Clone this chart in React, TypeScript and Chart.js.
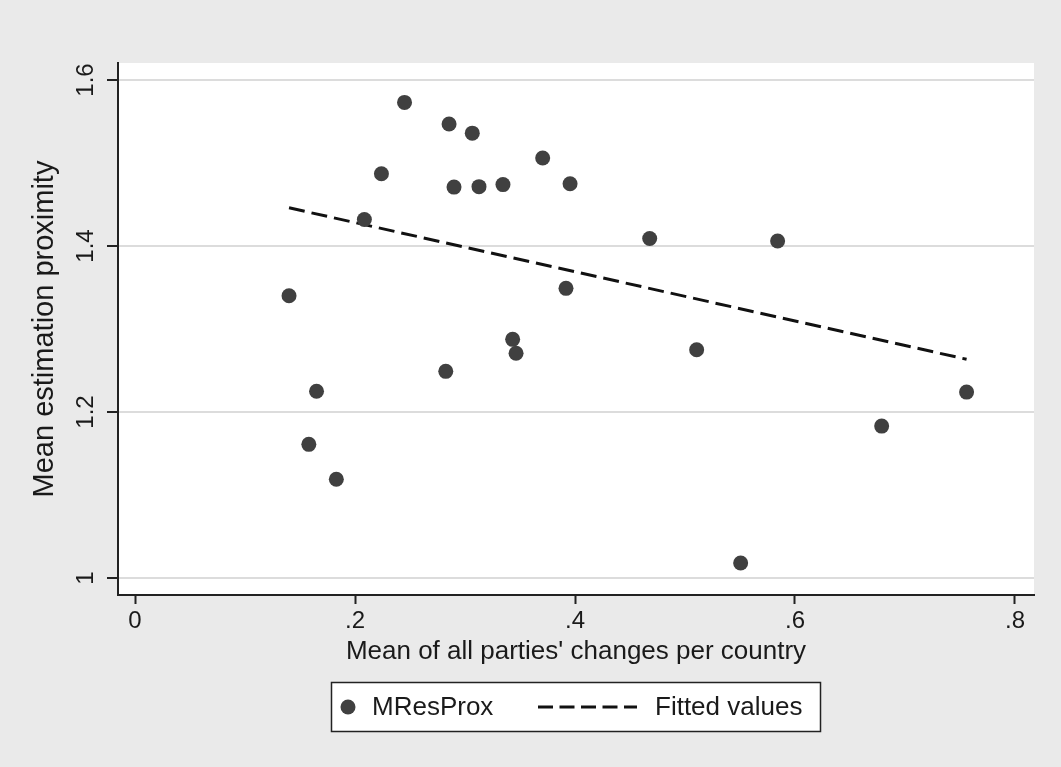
import React, { useEffect, useRef } from 'react';
import { Chart, registerables } from 'chart.js';

Chart.register(...registerables);

// ---- data ----
const xValues = [0.140, 0.158, 0.165, 0.183, 0.2085, 0.224, 0.245, 0.2855, 0.3066, 0.290, 0.3127, 0.3345, 0.3706, 0.3955, 0.2825, 0.3433, 0.3464, 0.3918, 0.4679, 0.5842, 0.5106, 0.5506, 0.6788, 0.756];
const yValues = [1.340, 1.161, 1.225, 1.119, 1.432, 1.487, 1.573, 1.547, 1.536, 1.471, 1.4715, 1.474, 1.506, 1.475, 1.249, 1.2875, 1.2707, 1.349, 1.409, 1.406, 1.275, 1.018, 1.183, 1.224];
const fitX = [0.140, 0.756];
const fitY = [1.446, 1.2635];
const xTickValues = [0, 0.2, 0.4, 0.6, 0.8];
const xTickLabels = ['0', '.2', '.4', '.6', '.8'];
const yTickValues = [1, 1.2, 1.4, 1.6];
const yTickLabels = ['1', '1.2', '1.4', '1.6'];
const seriesLabels = ['MResProx', 'Fitted values'];
const xTitle = "Mean of all parties' changes per country";
const yTitle = 'Mean estimation proximity';

const FONT = '"Liberation Sans", Arial, Helvetica, sans-serif';
const TEXT = '#1a1a1a';
const AXIS = '#222222';
const DOT = '#404040';

const legendPlugin = {
  id: 'stataLegend',
  afterDraw(chart: any) {
    const { ctx, chartArea } = chart;
    const cx = (chartArea.left + chartArea.right) / 2;
    const w = 490;
    const h = 50;
    const left = Math.round(cx - w / 2);
    const top = chartArea.bottom + 87;
    const midY = top + h / 2;
    ctx.save();
    ctx.fillStyle = '#ffffff';
    ctx.fillRect(left, top, w, h);
    ctx.strokeStyle = AXIS;
    ctx.lineWidth = 1.5;
    ctx.strokeRect(left + 0.5, top + 0.5, w - 1, h - 1);
    // marker
    ctx.fillStyle = DOT;
    ctx.beginPath();
    ctx.arc(left + 17, midY, 7.5, 0, Math.PI * 2);
    ctx.fill();
    ctx.font = `26px ${FONT}`;
    ctx.fillStyle = TEXT;
    ctx.textBaseline = 'middle';
    ctx.textAlign = 'left';
    ctx.fillText(seriesLabels[0], left + 41, midY + 1);
    // dashed line
    ctx.strokeStyle = '#111111';
    ctx.lineWidth = 3;
    ctx.setLineDash([15, 6.5]);
    ctx.beginPath();
    ctx.moveTo(left + 207, midY);
    ctx.lineTo(left + 306, midY);
    ctx.stroke();
    ctx.setLineDash([]);
    ctx.fillText(seriesLabels[1], left + 324, midY + 1);
    ctx.restore();
  },
};

export default function App() {
  const canvasRef = useRef<HTMLCanvasElement | null>(null);

  useEffect(() => {
    document.body.style.margin = '0';
    const canvas = canvasRef.current;
    if (!canvas) return;
    const chart = new Chart(canvas, {
      type: 'scatter',
      data: {
        datasets: [
          {
            label: seriesLabels[0],
            data: xValues.map((x, i) => ({ x, y: yValues[i] })),
            backgroundColor: DOT,
            borderWidth: 0,
            pointRadius: 7.5,
            pointHoverRadius: 7.5,
          },
          {
            type: 'line',
            label: seriesLabels[1],
            data: fitX.map((x, i) => ({ x, y: fitY[i] })),
            borderColor: '#111111',
            borderWidth: 3,
            borderDash: [16, 7],
            pointRadius: 0,
            fill: false,
            showLine: true,
          } as any,
        ],
      },
      options: {
        responsive: false,
        animation: false,
        layout: { padding: { left: 0, top: 63, right: 27, bottom: 92 } },
        plugins: {
          legend: { display: false },
          tooltip: { enabled: false },
        },
        scales: {
          x: {
            type: 'linear',
            position: 'bottom',
            min: -0.0155,
            max: 0.8173,
            afterBuildTicks: (scale: any) => {
              scale.ticks = xTickValues.map((v) => ({ value: v }));
            },
            afterFit: (scale: any) => {
              scale.height = 80;
            },
            ticks: {
              callback: (_v: any, i: number) => xTickLabels[i],
              font: { family: FONT, size: 24 },
              color: TEXT,
              padding: 3,
              maxRotation: 0,
              minRotation: 0,
            },
            grid: {
              drawOnChartArea: false,
              drawTicks: true,
              tickLength: 9,
              tickColor: AXIS,
              tickWidth: 2,
            },
            border: { display: true, color: AXIS, width: 2 },
            title: {
              display: true,
              text: xTitle,
              font: { family: FONT, size: 26 },
              color: TEXT,
              padding: { top: 0, bottom: 8 },
            },
          },
          y: {
            type: 'linear',
            position: 'left',
            min: 0.9795,
            max: 1.6205,
            afterBuildTicks: (scale: any) => {
              scale.ticks = yTickValues.map((v) => ({ value: v }));
            },
            afterFit: (scale: any) => {
              scale.width = 118;
            },
            ticks: {
              callback: (_v: any, i: number) => yTickLabels[i],
              font: { family: FONT, size: 24 },
              color: TEXT,
              padding: 4,
              minRotation: 90,
              maxRotation: 90,
              crossAlign: 'center',
            },
            grid: {
              color: '#DCDCDC',
              lineWidth: 2,
              drawTicks: true,
              tickLength: 11,
              tickColor: AXIS,
              tickWidth: 2,
            },
            border: { display: true, color: AXIS, width: 2 },
            title: {
              display: true,
              text: yTitle,
              font: { family: FONT, size: 29 },
              color: TEXT,
              padding: { top: 28, bottom: 0 },
            },
          },
        },
      },
      plugins: [
        {
          id: 'plotBg',
          beforeDraw(c: any) {
            const { ctx, chartArea } = c;
            ctx.save();
            ctx.fillStyle = '#ffffff';
            ctx.fillRect(chartArea.left, chartArea.top, chartArea.right - chartArea.left, chartArea.bottom - chartArea.top);
            ctx.restore();
          },
        },
        legendPlugin,
      ],
    } as any);
    return () => chart.destroy();
  }, []);

  return (
    <div style={{ position: 'absolute', left: 0, top: 0, width: 1061, height: 767, background: '#EAEAEA' }}>
      <canvas ref={canvasRef} width={1061} height={767} style={{ display: 'block' }} />
    </div>
  );
}
